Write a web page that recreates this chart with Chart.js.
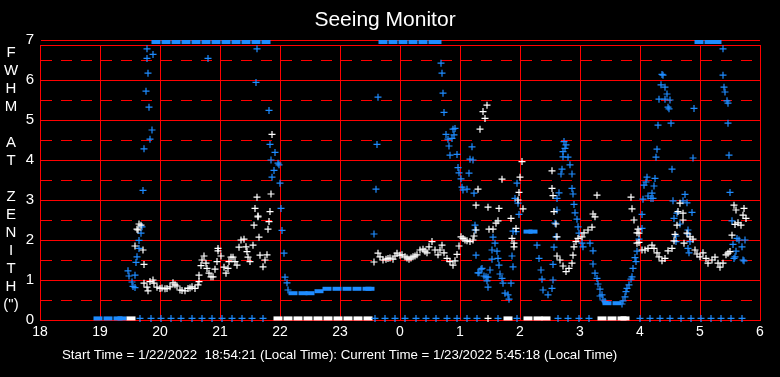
<!DOCTYPE html>
<html>
<head>
<meta charset="utf-8">
<script src="https://cdn.jsdelivr.net/npm/chart.js@4.4.0/dist/chart.umd.min.js"></script>
<style>
  body { margin: 0; background: #000; }
  .chart-box { width: 780px; height: 377px; }
</style>
</head>
<body>
<div class="chart-box"><canvas id="seeingChart"></canvas></div>
<script>
// x values are minutes after 18:00 local time
const hourTicks = [0, 60, 120, 180, 240, 300, 360, 420, 480, 540, 600, 660, 720];
const hourLabels = ['18', '19', '20', '21', '22', '23', '0', '1', '2', '3', '4', '5', '6'];
const yTickValues = [0, 0.5, 1, 1.5, 2, 2.5, 3, 3.5, 4, 4.5, 5, 5.5, 6, 6.5, 6.875, 7];

const titleText = 'Seeing Monitor';
const axisLetters = ['F', 'W', 'H', 'M', '', 'A', 'T', '', 'Z', 'E', 'N', 'I', 'T', 'H', '(")'];
const footerText = 'Start Time = 1/22/2022  18:54:21 (Local Time): Current Time = 1/23/2022 5:45:18 (Local Time)';

const whitePts = [
  [97, 2.27], [98, 2.25], [99, 2.4], [101, 2.37], [95, 1.85], [103, 1.75], [104, 1.39], [104, 0.92],
  [107, 0.82], [108, 0.73], [110, 0.96], [113, 1.0], [114, 0.92], [117, 0.82], [120, 0.79], [122, 0.8],
  [125, 0.78], [127, 0.79], [130, 0.83], [133, 0.93], [135, 0.88], [137, 0.85], [140, 0.75], [142, 0.74],
  [145, 0.73], [148, 0.79], [150, 0.8], [152, 0.83], [155, 0.79], [158, 0.88], [159, 0.96], [159, 1.12],
  [161, 1.36], [162, 1.5], [164, 1.6], [166, 1.42], [167, 1.29], [169, 1.17], [171, 1.08], [173, 1.08],
  [175, 1.27], [177, 1.46], [178, 1.73], [178, 1.79], [181, 1.6], [184, 1.32], [186, 1.17], [188, 1.29],
  [189, 1.46], [191, 1.57], [193, 1.57], [195, 1.46], [197, 1.37], [199, 1.82], [201, 2.0], [204, 2.02],
  [206, 1.83], [207, 1.71], [208, 1.57], [210, 1.46], [213, 1.87], [214, 2.37], [217, 3.07], [218, 2.58],
  [219, 2.07], [215, 2.79], [218, 2.6], [220, 1.62], [223, 1.33], [225, 1.5], [227, 1.63], [228, 2.27],
  [229, 2.46], [230, 2.71], [231, 3.15], [232, 4.64],
  [334, 1.45], [338, 1.67], [340, 1.58], [343, 1.5], [346, 1.52], [348, 1.54], [350, 1.55], [353, 1.52],
  [355, 1.6], [357, 1.67], [360, 1.62], [362, 1.63], [365, 1.58], [367, 1.55], [369, 1.52], [371, 1.55],
  [373, 1.58], [375, 1.6], [377, 1.63], [380, 1.75], [383, 1.77], [385, 1.72], [387, 1.68], [389, 1.83],
  [392, 1.96], [395, 1.75], [398, 1.63], [400, 1.75], [402, 1.87], [404, 1.68], [407, 1.54], [410, 1.46],
  [413, 1.37], [415, 1.48], [417, 1.64], [419, 1.85], [421, 2.08], [423, 2.04], [425, 2.0], [427, 1.98],
  [430, 1.96], [433, 2.0], [434, 2.1], [436, 2.25], [436, 2.87], [438, 3.27], [440, 4.77], [443, 5.21],
  [445, 5.04], [447, 5.37], [448, 2.82], [449, 2.27],
  [453, 2.27], [456, 2.42], [458, 2.48], [459, 2.79], [462, 3.52], [471, 2.54], [472, 2.04], [474, 1.92],
  [474, 1.83], [476, 2.29], [478, 3.0], [479, 3.19], [480, 3.57], [482, 3.96], [483, 2.78],
  [512, 3.73], [512, 3.29], [513, 3.11], [514, 2.71], [516, 2.4], [517, 2.08], [517, 1.6], [520, 1.5],
  [523, 1.35], [526, 1.21], [529, 1.29], [532, 1.42], [533, 1.62], [534, 1.83], [536, 1.96], [538, 2.04],
  [542, 2.08], [544, 2.18], [548, 2.25], [552, 2.32], [553, 2.65], [555, 2.58], [557, 3.12],
  [591, 3.07], [592, 2.78], [594, 2.5], [597, 2.18], [598, 2.27], [599, 2.17], [599, 1.94], [597, 1.92],
  [602, 1.75], [605, 1.75], [608, 1.79], [612, 1.87], [614, 1.79], [617, 1.68], [619, 1.58], [622, 1.48],
  [625, 1.54], [628, 1.73], [632, 1.79], [634, 1.98], [635, 2.14], [637, 2.37], [638, 2.71], [640, 2.92],
  [643, 2.67], [643, 2.5], [644, 1.92], [647, 2.17], [650, 2.08], [653, 2.02], [655, 1.75], [657, 1.65],
  [660, 1.58], [663, 1.68], [666, 1.54], [668, 1.42], [672, 1.5], [675, 1.57], [678, 1.42], [680, 1.32],
  [683, 1.42], [686, 1.63], [688, 1.67], [690, 1.71], [692, 2.12], [695, 2.39], [696, 2.75], [694, 2.87],
  [698, 2.43], [701, 2.37], [703, 2.62], [704, 2.79], [706, 2.54],
  [448, 0.04]
];

const bluePts = [
  [107, 6.78], [113, 6.64], [107, 6.54], [108, 6.17], [106, 5.72], [109, 5.32], [112, 4.75], [110, 4.52],
  [104, 4.28], [103, 3.24],
  [88, 1.23], [89, 1.1], [95, 1.12], [92, 0.95], [93, 0.84], [95, 0.81], [96, 1.44], [97, 1.58],
  [99, 1.79], [99, 1.99], [101, 2.17], [102, 2.33],
  [168, 6.54], [217, 6.78], [216, 5.94], [229, 5.24], [230, 4.39], [235, 4.19], [231, 4.0], [238, 3.92],
  [239, 3.88], [234, 3.74], [232, 3.57], [240, 3.42], [241, 2.79], [242, 2.24], [244, 1.67], [245, 1.07],
  [247, 0.93], [248, 0.75],
  [338, 5.57], [337, 4.39], [336, 3.27], [334, 2.15],
  [401, 6.42], [402, 6.17], [403, 5.67], [404, 5.19], [406, 4.64], [413, 4.77], [415, 4.79], [408, 4.52],
  [412, 4.54], [414, 4.63], [409, 4.35], [410, 4.12], [417, 4.14], [418, 3.81], [419, 3.68], [429, 3.67],
  [421, 3.53], [422, 3.32], [423, 3.25], [427, 3.27], [434, 3.17], [432, 4.33], [430, 4.02], [433, 4.0],
  [435, 2.37], [435, 2.25], [436, 1.62], [441, 1.27], [438, 1.18], [444, 1.1], [447, 0.98], [448, 0.82],
  [442, 1.29], [439, 1.18], [446, 1.08], [448, 1.07], [450, 1.25], [452, 1.52], [452, 1.75], [453, 2.07],
  [455, 1.92], [457, 1.72], [458, 1.54], [459, 1.37], [460, 1.15], [462, 1.04], [463, 0.92], [465, 0.67],
  [468, 0.63], [469, 0.52], [471, 0.92], [472, 1.6], [473, 1.33], [473, 2.22], [476, 2.21], [477, 3.42],
  [475, 3.04], [478, 2.92], [479, 2.64],
  [497, 1.87], [499, 1.54], [501, 1.25], [502, 1.02], [503, 0.75], [508, 0.63], [512, 0.79], [513, 1.0],
  [513, 1.39], [514, 1.82], [516, 2.08], [515, 2.42], [517, 2.75], [517, 3.04], [519, 3.18], [521, 3.65],
  [522, 3.77], [523, 4.08], [523, 4.21], [525, 4.29], [526, 4.38], [524, 4.46], [528, 4.07], [530, 3.88],
  [532, 3.65], [532, 3.29], [533, 3.15], [534, 2.89], [535, 2.68], [537, 2.52], [538, 2.33], [539, 2.17],
  [542, 1.92], [543, 1.83], [550, 1.92], [553, 1.73], [553, 1.4], [555, 1.17], [557, 1.04], [558, 0.9],
  [560, 0.77], [560, 0.6], [562, 0.63], [563, 0.5], [565, 0.46],
  [582, 0.4], [583, 0.48], [585, 0.58], [586, 0.71], [587, 0.79], [589, 0.88], [591, 1.02], [592, 1.08],
  [593, 1.29], [596, 1.46], [595, 1.56], [597, 1.72], [599, 2.02], [602, 2.29], [602, 2.64], [603, 3.02],
  [604, 3.37], [606, 3.45], [607, 3.57], [608, 3.1], [611, 3.04], [613, 3.04], [612, 3.17], [614, 3.35],
  [615, 3.54],
  [622, 6.14], [623, 6.12], [621, 5.88], [625, 5.82], [627, 5.65], [619, 5.52], [625, 5.52], [630, 5.5],
  [628, 5.32], [629, 5.28], [654, 5.29], [618, 4.87], [631, 4.92], [617, 4.27], [616, 4.07], [653, 4.05],
  [632, 3.77], [633, 2.98], [645, 3.14], [643, 2.98], [647, 2.93], [652, 2.69], [637, 2.67], [634, 2.54],
  [640, 2.4], [648, 2.25], [636, 2.1], [648, 2.15], [650, 1.96], [636, 1.96], [648, 1.79], [649, 1.68],
  [683, 6.78], [683, 6.12], [684, 5.82], [685, 5.7], [687, 5.48], [688, 5.42], [688, 4.92], [689, 4.12],
  [690, 3.19], [692, 2.48], [693, 1.89], [697, 2.04], [699, 2.0], [705, 2.0], [702, 1.83], [696, 1.72],
  [695, 1.58], [694, 1.54], [703, 1.5], [704, 1.48]
];

// readings that sit on the floor (every ~10 min), drawn just above the axis
const blueZeroMinutes = [100, 111, 121, 131, 141, 152, 162, 172, 182, 192, 202, 212, 223,
  335, 345, 355, 365, 376, 386, 396, 407, 417, 427, 437, 458, 477, 518, 528, 539, 549,
  600, 610, 620, 630, 641, 651, 661, 671, 681, 691, 702];
const floorValue = 0.04;

// runs of densely packed readings, drawn as short thick dashes
const blueRuns = [
  [116, 6.95], [126, 6.95], [136, 6.95], [146, 6.95], [156, 6.95], [166, 6.95], [176, 6.95], [186, 6.95],
  [196, 6.95], [206, 6.95], [216, 6.95], [226, 6.95],
  [343, 6.95], [353, 6.95], [363, 6.95], [373, 6.95], [383, 6.95], [393, 6.95], [397, 6.95],
  [659, 6.95], [669, 6.95], [677, 6.95],
  [58, 0.04], [68, 0.04], [78, 0.04], [82, 0.04],
  [253, 0.67], [263, 0.67], [270, 0.67], [279, 0.72], [287, 0.78], [297, 0.78], [307, 0.78], [317, 0.78],
  [327, 0.78], [330, 0.78],
  [488, 2.21], [493, 2.21],
  [567, 0.42], [577, 0.42]
];
const whiteRuns = [
  [91, 0.04], [238, 0.04], [248, 0.04], [258, 0.04], [268, 0.04], [278, 0.04], [288, 0.04], [298, 0.04],
  [308, 0.04], [318, 0.04], [328, 0.04],
  [468, 0.04], [488, 0.04], [498, 0.04], [506, 0.04], [562, 0.04], [572, 0.04], [582, 0.04], [585, 0.04]
];

const FONT = '"Liberation Sans", Arial, sans-serif';
const BLUE = '#1e8cff';
const RED = '#ff0000';
// tiny nudge so grid lines snap to the same pixel rows/columns despite float rounding
const NUDGE = 1e-7;

const toXY = (arr) => arr.map((p) => ({ x: p[0], y: p[1] }));
const near = (a, b) => Math.abs(a - b) < 1e-3;

const textPlugin = {
  id: 'seeingText',
  afterDraw(chart) {
    const c = chart.ctx;
    c.save();
    c.fillStyle = '#fff';
    c.textAlign = 'center';
    c.textBaseline = 'middle';
    c.font = '21px ' + FONT;
    c.fillText(titleText, 385, 20);
    c.font = '15px ' + FONT;
    axisLetters.forEach((ch, i) => c.fillText(ch, 11, 52.5 + 18 * i));
    c.textAlign = 'left';
    c.font = '13.3px ' + FONT;
    c.fillText(footerText, 62, 355);
    c.restore();
  }
};

const ctx = document.getElementById('seeingChart').getContext('2d');

window.seeingChart = new Chart(ctx, {
  type: 'scatter',
  data: {
    datasets: [
      {
        data: toXY(whitePts),
        pointStyle: 'cross',
        radius: 3.5,
        borderWidth: 1.2,
        borderColor: '#fff',
        clip: false
      },
      {
        data: toXY(bluePts).concat(blueZeroMinutes.map((m) => ({ x: m, y: floorValue }))),
        pointStyle: 'cross',
        radius: 3.5,
        borderWidth: 1.2,
        borderColor: BLUE,
        clip: false
      },
      {
        data: toXY(whiteRuns),
        pointStyle: 'line',
        radius: 4.5,
        borderWidth: 4,
        borderColor: '#fff',
        clip: false
      },
      {
        data: toXY(blueRuns),
        pointStyle: 'line',
        radius: 4.5,
        borderWidth: 4,
        borderColor: BLUE,
        clip: false
      }
    ]
  },
  options: {
    responsive: true,
    maintainAspectRatio: false,
    animation: false,
    layout: { padding: { top: 45, right: 20, bottom: 27, left: 0 } },
    plugins: {
      legend: { display: false },
      tooltip: { enabled: false }
    },
    scales: {
      x: {
        type: 'linear',
        min: 0,
        max: 720,
        afterFit: (s) => { s.height = 30; },
        afterBuildTicks: (s) => {
          s.ticks = hourTicks.map((v) => ({ value: Math.min(720, v + NUDGE) }));
        },
        grid: { color: RED, lineWidth: 1, drawTicks: false },
        border: { color: RED },
        ticks: {
          autoSkip: false,
          color: '#fff',
          padding: 4,
          font: { family: FONT, size: 14 },
          callback: (v) => hourLabels[Math.round(v / 60)]
        }
      },
      y: {
        min: 0,
        max: 6.875,
        afterFit: (s) => { s.width = 40; },
        afterBuildTicks: (s) => {
          s.ticks = yTickValues.map((v) => ({ value: Math.max(0, v - NUDGE) }));
        },
        grid: { color: RED, lineWidth: 1, drawTicks: false },
        border: {
          color: RED,
          dash: (c) => (c.tick && near(c.tick.value % 1, 0.5) ? [11, 9] : [])
        },
        ticks: {
          autoSkip: false,
          color: '#fff',
          padding: 6,
          font: { family: FONT, size: 15 },
          callback: (v) => (near(v, Math.round(v)) ? Math.round(v) : '')
        }
      }
    }
  },
  plugins: [textPlugin]
});
</script>
</body>
</html>
